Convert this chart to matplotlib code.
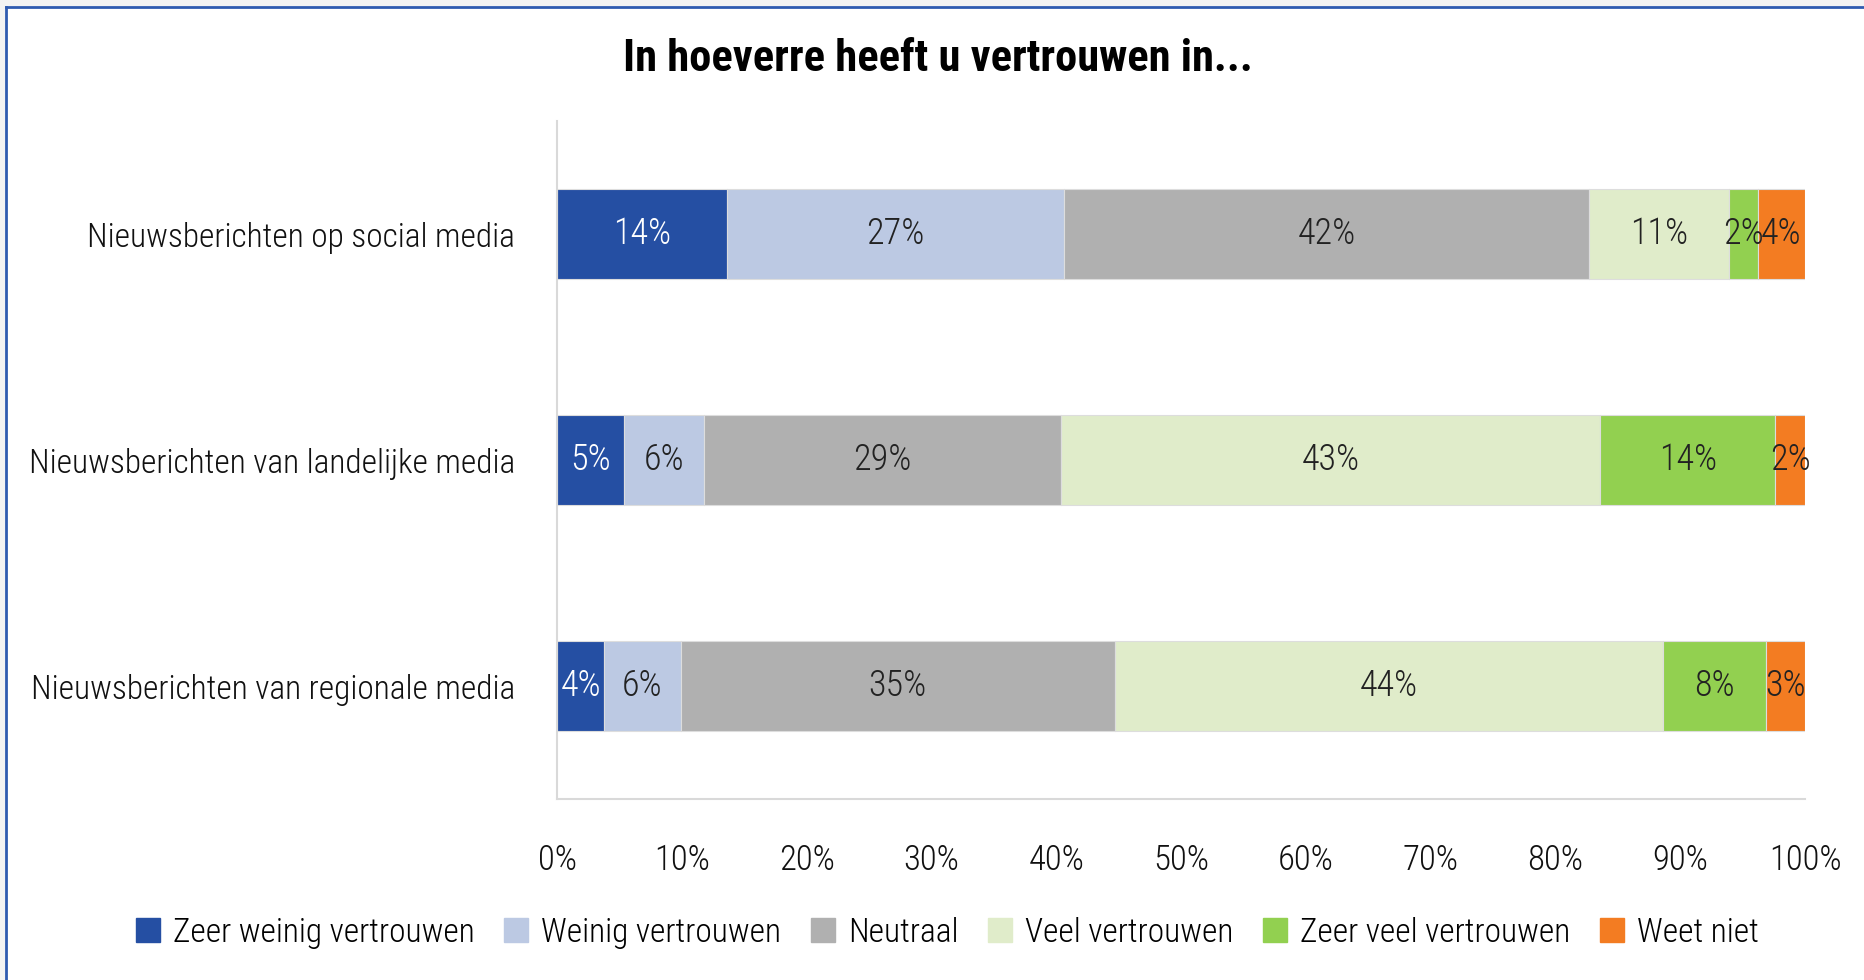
import matplotlib
matplotlib.use("Agg")
import matplotlib.pyplot as plt
from matplotlib import font_manager
from matplotlib.lines import Line2D
from matplotlib.patches import Rectangle
import numpy as np

# ---- data ----
categories = ["Nieuwsberichten op social media",
              "Nieuwsberichten van landelijke media",
              "Nieuwsberichten van regionale media"]
series_names = ["Zeer weinig vertrouwen", "Weinig vertrouwen", "Neutraal",
                "Veel vertrouwen", "Zeer veel vertrouwen", "Weet niet"]
social = [13.6, 27.0, 42.1, 11.2, 2.3, 3.8]
landelijk = [5.4, 6.4, 28.6, 43.2, 14.0, 2.4]
regionaal = [3.8, 6.1, 34.8, 43.9, 8.3, 3.1]
labels_social = ["14%", "27%", "42%", "11%", "2%", "4%"]
labels_landelijk = ["5%", "6%", "29%", "43%", "14%", "2%"]
labels_regionaal = ["4%", "6%", "35%", "44%", "8%", "3%"]
xticks = [0, 10, 20, 30, 40, 50, 60, 70, 80, 90, 100]
xtick_labels = ["0%", "10%", "20%", "30%", "40%", "50%", "60%", "70%", "80%", "90%", "100%"]
title = "In hoeverre heeft u vertrouwen in..."

colors = ["#254FA3", "#BCC9E3", "#B0B0B0", "#E0ECCA", "#92D050", "#F37C22"]
text_colors = ["white", "#222222", "#222222", "#222222", "#222222", "#222222"]

# ---- font ----
available = {f.name for f in font_manager.fontManager.ttflist}
family = "DejaVu Sans"
for cand in ["Liberation Sans Narrow", "DejaVu Sans Condensed", "Roboto Condensed",
             "Open Sans Condensed", "Noto Sans"]:
    if cand in available:
        family = cand
        break
plt.rcParams["font.family"] = [family, "DejaVu Sans"]
LW = "light"

fig = plt.figure(figsize=(18.64, 9.8), dpi=100)
ax = fig.add_axes([557 / 1864, 1 - 799 / 980, (1805 - 557) / 1864, (799 - 121) / 980])

values = [social, landelijk, regionaal]
labels = [labels_social, labels_landelijk, labels_regionaal]
ypos = np.arange(len(categories))
left = np.zeros(len(categories))
for j, name in enumerate(series_names):
    vals = np.array([v[j] for v in values])
    ax.barh(ypos, vals, left=left, height=0.4, color=colors[j],
            edgecolor="#DDDDDD", linewidth=0.8, label=name)
    for i in range(len(categories)):
        ax.text(left[i] + vals[i] / 2, ypos[i], labels[i][j], ha="center", va="center",
                fontsize=26, color=text_colors[j], fontweight=LW)
    left += vals

ax.set_xlim(0, 100)
ax.set_ylim(2.5, -0.5)
ax.set_yticks(ypos)
ax.set_yticklabels(categories, fontsize=24, color="#111111", fontweight=LW)
ax.set_xticks(xticks)
ax.set_xticklabels(xtick_labels, fontsize=25, color="#111111", fontweight=LW)
ax.tick_params(axis="both", length=0)
ax.tick_params(axis="y", pad=30)
ax.tick_params(axis="x", pad=32)
for s in ["top", "right"]:
    ax.spines[s].set_visible(False)
for s in ["left", "bottom"]:
    ax.spines[s].set_color("#D9D9D9")
    ax.spines[s].set_linewidth(1.5)

fig.text(938 / 1864, 1 - 59 / 980, title, ha="center", va="center",
         fontsize=32, fontweight="bold", color="black")

handles = [Line2D([0], [0], marker="s", linestyle="none", markersize=17,
                  markerfacecolor=c, markeredgecolor=c) for c in colors]
fig.legend(handles, series_names, loc="center", bbox_to_anchor=(945 / 1864, 1 - 933 / 980),
           ncol=6, frameon=False, prop={"size": 24, "weight": LW}, handletextpad=0.25,
           columnspacing=0.75, handlelength=1.0)

# frame decoration
fig.patches.append(Rectangle((0, 1 - 7 / 980), 1, 7 / 980, transform=fig.transFigure,
                             facecolor="#F3F3F3", edgecolor="none", zorder=0))
fig.patches.append(Rectangle((0, 0), 5 / 1864, 1, transform=fig.transFigure,
                             facecolor="#F3F3F3", edgecolor="none", zorder=0))
fig.add_artist(Line2D([5.5 / 1864, 1], [1 - 7.5 / 980, 1 - 7.5 / 980], transform=fig.transFigure,
                      color="#2F5BB0", linewidth=2))
fig.add_artist(Line2D([5.5 / 1864, 5.5 / 1864], [0, 1 - 7.5 / 980], transform=fig.transFigure,
                      color="#2F5BB0", linewidth=2))

fig.savefig("out.png", dpi=100)
